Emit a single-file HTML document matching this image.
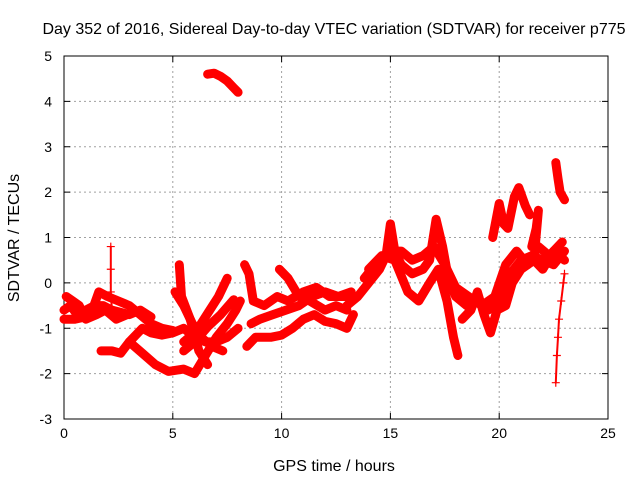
<!DOCTYPE html>
<html><head><meta charset="utf-8"><style>
body{margin:0;background:#fff}
svg{display:block;font-family:"Liberation Sans",sans-serif;font-size:14px}
</style></head><body>
<svg width="640" height="480" viewBox="0 0 640 480">
<text x="334" y="34" text-anchor="middle" font-size="16">Day 352 of 2016, Sidereal Day-to-day VTEC variation (SDTVAR) for receiver p775</text>
<g id="grid"></g>
<g id="axes"></g>
<g id="series"></g>
<text x="334" y="471" text-anchor="middle" font-size="16">GPS time / hours</text>
<text transform="translate(19,238) rotate(-90)" text-anchor="middle" font-size="16">SDTVAR / TECUs</text>
</svg>
<script>
const xTicks=[0,5,10,15,20,25];
const yTicks=[-3,-2,-1,0,1,2,3,4,5];
const trackTop=[[6.6,4.6],[6.9,4.62],[7.2,4.55],[7.5,4.45],[7.8,4.3],[8.0,4.2]];
const trackEarlyA=[[0,-0.6],[0.3,-0.5],[0.6,-0.7],[1.0,-0.6],[1.4,-0.5],[1.8,-0.5],[2.2,-0.6],[2.6,-0.65],[3.0,-0.7],[3.5,-0.6],[4.0,-0.75]];
const trackEarlyB=[[0,-0.8],[0.5,-0.8],[1.0,-0.75],[1.3,-0.6],[1.6,-0.2],[2.0,-0.3],[2.5,-0.4],[3.0,-0.5],[3.5,-0.7],[4.0,-0.9],[4.5,-1.0],[5.0,-1.05]];
const trackEarlyC=[[0.1,-0.3],[0.4,-0.4],[0.7,-0.5],[1.0,-0.8],[1.5,-0.7],[1.9,-0.6],[2.4,-0.8],[2.9,-0.7]];
const trackSpike=[[2.15,0.8],[2.15,0.3],[2.15,-0.2],[2.2,-0.6]];
const trackLow=[[1.7,-1.5],[2.2,-1.5],[2.6,-1.55],[3.0,-1.3],[3.6,-1.0],[4.0,-1.1],[4.5,-1.15],[5.0,-1.1],[5.5,-1.0],[6.0,-1.2],[6.5,-1.3],[7.0,-1.3],[7.5,-1.2],[8.0,-1.0]];
const trackDeep=[[3.0,-1.3],[3.6,-1.55],[4.2,-1.8],[4.8,-1.95],[5.5,-1.9],[6.0,-2.0],[6.5,-1.6],[7.0,-1.2],[7.5,-0.9],[7.9,-0.6],[8.1,-0.4]];
const trackX1=[[5.1,-0.2],[5.5,-0.5],[5.9,-0.9],[6.3,-1.2],[6.8,-1.4],[7.3,-1.5]];
const trackX2=[[7.5,0.1],[7.1,-0.3],[6.7,-0.6],[6.3,-0.9],[6.0,-1.1],[5.5,-1.3]];
const trackX3=[[5.5,-1.5],[6.0,-1.3],[6.6,-0.97],[7.2,-0.7],[7.8,-0.37]];
const trackX4=[[5.3,0.4],[5.4,-0.3],[5.8,-0.8],[6.2,-1.5],[6.6,-1.8]];
const trackMid1=[[8.3,0.4],[8.5,0.2],[8.7,-0.4],[9.2,-0.5],[9.8,-0.3],[10.3,-0.4],[11,-0.2],[11.6,-0.1],[12.2,-0.3],[13,-0.3]];
const trackMid2=[[9.9,0.3],[10.3,0.1],[10.8,-0.3],[11.3,-0.4],[12,-0.6],[12.5,-0.5],[13,-0.6]];
const trackMid3=[[8.4,-1.4],[8.8,-1.2],[9.5,-1.2],[10.0,-1.15],[10.5,-1.0],[11.0,-0.8],[11.5,-0.7],[12.0,-0.85],[12.5,-0.9],[13.0,-1.0],[13.3,-0.7]];
const trackMid4=[[8.6,-0.9],[9.0,-0.8],[9.6,-0.7],[10.2,-0.6],[10.8,-0.5],[11.4,-0.3],[12.0,-0.2],[12.6,-0.3],[13.2,-0.2]];
const trackMain=[[13,-0.5],[13.5,-0.3],[14,0],[14.5,0.3],[14.8,0.6],[15,1.3],[15.2,0.7],[15.5,0.4],[16,0.2],[16.5,0.3],[16.8,0.5],[17.1,1.4],[17.4,0.8],[17.7,0.0],[18,-0.3],[18.5,-0.5],[19,-0.4],[19.5,-0.6],[20,-0.4],[20.5,0.2],[21,0.5],[21.5,0.6],[22,0.5],[22.5,0.4],[23,0.7]];
const trackMain2=[[14,0.3],[14.6,0.6],[15.2,0.5],[15.8,-0.2],[16.3,-0.4],[16.8,0.0],[17.2,0.3],[17.6,-0.4],[17.9,-1.2],[18.1,-1.6]];
const trackMain3=[[18.3,-0.8],[18.7,-0.6],[19.0,-0.2],[19.3,-0.7],[19.6,-1.1],[19.9,-0.6],[20.3,-0.5],[20.6,0.0],[21.0,0.3],[21.6,0.5],[22.0,0.3],[22.5,0.7],[23,0.5]];
const trackMain4=[[13.8,0.1],[14.3,0.4],[15.0,0.7],[15.5,0.7],[16.0,0.5],[16.5,0.6],[17.0,0.8],[17.5,0.4],[18.0,-0.1],[18.6,-0.3],[19.2,-0.5],[19.8,-0.3],[20.3,0.4],[20.8,0.7],[21.3,0.4],[21.8,0.8],[22.3,0.6],[22.9,0.9]];
const trackHigh=[[19.7,1.0],[20.0,1.75],[20.2,1.3],[20.4,1.2],[20.7,1.9],[20.9,2.1],[21.2,1.7],[21.4,1.5]];
const trackHigh2=[[21.6,0.5],[21.8,1.6],[21.7,1.2],[21.5,0.8]];
const trackTail=[[22.6,2.65],[22.7,2.3],[22.8,2.0],[23.0,1.83]];
const trackDrop=[[22.6,-2.2],[22.65,-1.6],[22.7,-1.2],[22.75,-0.8],[22.85,-0.4],[22.95,0.0],[23.0,0.2]];
const tracks=[trackTop,trackEarlyA,trackEarlyB,trackEarlyC,trackSpike,trackLow,trackDeep,trackX1,trackX2,trackX3,trackX4,trackMid1,trackMid2,trackMid3,trackMid4,trackMain,trackMain2,trackMain3,trackMain4,trackHigh,trackHigh2,trackTail,trackDrop];
const thin=[trackSpike,trackDrop];
const X0=64,X1=608,Y0=419,Y1=56;
function sx(t){return X0+(t-0)/(25-0)*(X1-X0);}
function sy(v){return Y0-(v+3)/(5+3)*(Y0-Y1);}
const NS="http://www.w3.org/2000/svg";
function mk(tag,attrs,parent){const e=document.createElementNS(NS,tag);for(const k in attrs)e.setAttribute(k,attrs[k]);parent.appendChild(e);return e;}
const grid=document.getElementById('grid'),axes=document.getElementById('axes'),ser=document.getElementById('series');
xTicks.forEach(t=>{
 const x=sx(t);
 if(t>0&&t<25){const l=mk('line',{x1:x,x2:x,y1:Y1,y2:Y0,stroke:'#a0a0a0','stroke-dasharray':'2,3'},grid);
 
 }
 mk('line',{x1:x,x2:x,y1:Y0,y2:Y0-6,stroke:'#000'},axes);
 mk('line',{x1:x,x2:x,y1:Y1,y2:Y1+6,stroke:'#000'},axes);
 const tx=mk('text',{x:x,y:Y0+19,'text-anchor':'middle'},axes);tx.textContent=t;
 
 
});
yTicks.forEach(v=>{
 const y=sy(v);
 if(v>-3&&v<5){const l=mk('line',{x1:X0,x2:X1,y1:y,y2:y,stroke:'#a0a0a0','stroke-dasharray':'2,3'},grid);
 
 }
 mk('line',{x1:X0,x2:X0+6,y1:y,y2:y,stroke:'#000'},axes);
 mk('line',{x1:X1,x2:X1-6,y1:y,y2:y,stroke:'#000'},axes);
 const tx=mk('text',{x:X0-12,y:y+5,'text-anchor':'end'},axes);tx.textContent=v;
 
 
});
mk('rect',{x:X0,y:Y1,width:X1-X0,height:Y0-Y1,fill:'none',stroke:'#000'},axes);
tracks.forEach(tr=>{
 const pts=tr.map(p=>sx(p[0]).toFixed(1)+','+sy(p[1]).toFixed(1)).join(' ');
 const isThin=thin.includes(tr);
 const pl=mk('polyline',{points:pts,fill:'none',stroke:'#f00','stroke-width':isThin?2:9,'stroke-linejoin':'round','stroke-linecap':'round'},ser);
 
 
 tr.forEach(p=>{const x=sx(p[0]),y=sy(p[1]);
  const m=mk('path',{d:`M${x-4},${y}H${x+4}M${x},${y-4}V${y+4}`,stroke:'#f00','stroke-width':1.2},ser);
  
  });
});
</script>
</body></html>
